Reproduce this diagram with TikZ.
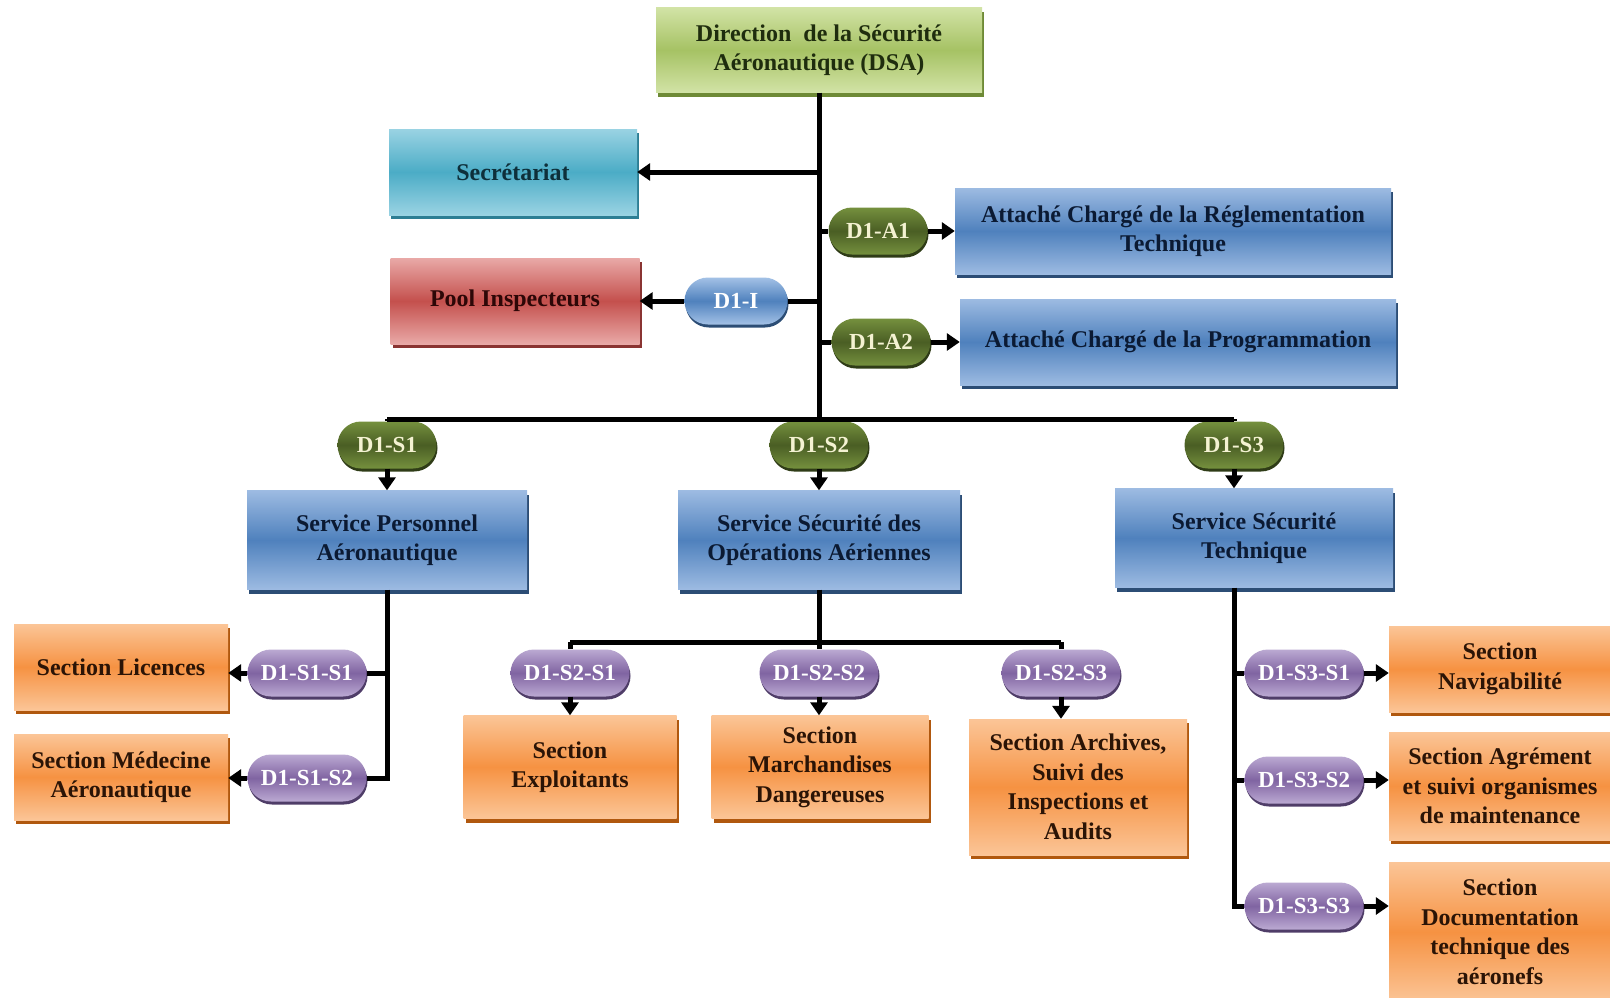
\documentclass[tikz,border=0pt]{standalone}
\usepackage{fontspec}
\setmainfont{Liberation Serif}
\usetikzlibrary{arrows.meta,shapes.misc,shadows,calc}
\definecolor{gTop}{HTML}{D2E3A6}\definecolor{gMid}{HTML}{A6C264}\definecolor{gSh}{HTML}{6E8A36}\definecolor{gTx}{HTML}{1F2D0E}
\definecolor{cTop}{HTML}{9AD3E3}\definecolor{cMid}{HTML}{4BACC6}\definecolor{cSh}{HTML}{2D7E94}\definecolor{cTx}{HTML}{0E2F3A}
\definecolor{rTop}{HTML}{E9A9A7}\definecolor{rMid}{HTML}{C4504D}\definecolor{rSh}{HTML}{8A3432}\definecolor{rTx}{HTML}{2D0707}
\definecolor{bTop}{HTML}{9DBBE2}\definecolor{bMid}{HTML}{4F81BD}\definecolor{bSh}{HTML}{2C4D75}\definecolor{bTx}{HTML}{0B1A33}
\definecolor{oTop}{HTML}{FBC597}\definecolor{oMid}{HTML}{F69242}\definecolor{oSh}{HTML}{B0580E}\definecolor{oTx}{HTML}{2B1406}
\definecolor{olTop}{HTML}{75903E}\definecolor{olMid}{HTML}{4A5E24}\definecolor{olSh}{HTML}{2F3C17}\definecolor{olTx}{HTML}{F4F2D2}
\definecolor{pTop}{HTML}{BBA9D2}\definecolor{pMid}{HTML}{8064A2}\definecolor{pSh}{HTML}{4F3D68}
\definecolor{lbTop}{HTML}{A3C1E6}\definecolor{lbMid}{HTML}{4F81BD}
\tikzset{
  bx/.style={rectangle, align=center, inner sep=2pt, font=\bfseries\fontsize{24}{29.5}\selectfont},
  greenbox/.style={bx, top color=gTop, bottom color=gTop, middle color=gMid, text=gTx,
    general shadow={fill=gSh, shadow xshift=2pt, shadow yshift=-4pt}},
  cyanbox/.style={bx, top color=cTop, bottom color=cTop, middle color=cMid, text=cTx,
    general shadow={fill=cSh, shadow xshift=2pt, shadow yshift=-4pt}},
  redbox/.style={bx, top color=rTop, bottom color=rTop, middle color=rMid, text=rTx,
    general shadow={fill=rSh, shadow xshift=2pt, shadow yshift=-4pt}},
  bluebox/.style={bx, top color=bTop, bottom color=bTop, middle color=bMid, text=bTx,
    general shadow={fill=bSh, shadow xshift=2pt, shadow yshift=-4pt}},
  orangebox/.style={bx, top color=oTop, bottom color=oTop, middle color=oMid, text=oTx,
    general shadow={fill=oSh, shadow xshift=2pt, shadow yshift=-4pt}},
  pill/.style={rounded rectangle, minimum height=47pt, inner xsep=6pt, inner ysep=0pt,
    font=\bfseries\fontsize{23}{27}\selectfont},
  olivepill/.style={pill, minimum width=111pt, top color=olTop, bottom color=olTop, middle color=olMid, text=olTx,
    general shadow={fill=olSh, shadow xshift=1pt, shadow yshift=-3pt}},
  purplepill/.style={pill, minimum width=131pt, top color=pTop, bottom color=pTop, middle color=pMid, text=white,
    general shadow={fill=pSh, shadow xshift=1pt, shadow yshift=-3pt}},
  bluepill/.style={pill, minimum width=115pt, top color=lbTop, bottom color=lbTop, middle color=lbMid, text=white,
    general shadow={fill=bSh, shadow xshift=1pt, shadow yshift=-3pt}},
  ln/.style={draw=black, line width=5pt},
  arr/.style={ln, -{Triangle[length=13pt,width=17pt]}},
}
\begin{document}
\begin{tikzpicture}[x=1pt,y=-1pt]
\useasboundingbox[fill=white] (0,0) rectangle (1610,997);
% top
\node[greenbox, minimum width=326pt, minimum height=85pt] (dsa) at (819,50) {Direction\ \ de la Sécurité\\Aéronautique (DSA)};
\node[cyanbox, minimum width=248pt, minimum height=86pt] (sec) at (513,172) {Secrétariat};
\node[redbox, minimum width=249pt, minimum height=86pt] (pool) at (515,301) {Pool Inspecteurs};
\node[bluepill] (di) at (736,301) {D1-I};
\node[olivepill] (a1) at (878,231) {D1-A1};
\node[bluebox, minimum width=436pt, minimum height=86pt] (ar) at (1173,231) {Attaché Chargé de la Réglementation\\Technique};
\node[olivepill] (a2) at (881,342) {D1-A2};
\node[bluebox, minimum width=436pt, minimum height=86pt] (ap) at (1178,342) {Attaché Chargé de la Programmation};
% services
\coordinate (bar) at (819,419);
\node[olivepill] (s1) at (387,445) {D1-S1};
\node[olivepill] (s2) at (819,445) {D1-S2};
\node[olivepill] (s3) at (1234,445) {D1-S3};
\node[bluebox, minimum width=280pt, minimum height=99pt] (spa) at (387,540) {Service Personnel\\Aéronautique};
\node[bluebox, minimum width=282pt, minimum height=99pt] (ssoa) at (819,540) {Service Sécurité des\\Opérations Aériennes};
\node[bluebox, minimum width=278pt, minimum height=99pt] (sst) at (1254,538) {Service Sécurité\\Technique};
% S1 sections
\node[purplepill] (p11) at (307,673) {D1-S1-S1};
\node[purplepill] (p12) at (307,778) {D1-S1-S2};
\node[orangebox, minimum width=214pt, minimum height=86pt] (lic) at (121,667) {Section Licences};
\node[orangebox, minimum width=214pt, minimum height=86pt] (med) at (121,777) {Section Médecine\\Aéronautique};
% S2 sections
\coordinate (bar2) at (819,642);
\node[purplepill] (p21) at (570,673) {D1-S2-S1};
\node[purplepill] (p22) at (819,673) {D1-S2-S2};
\node[purplepill] (p23) at (1061,673) {D1-S2-S3};
\node[orangebox, minimum width=213pt, minimum height=103pt] (exp) at (570,767) {Section\\Exploitants};
\node[orangebox, minimum width=217pt, minimum height=103pt] (mar) at (820,767) {Section\\Marchandises\\Dangereuses};
\node[orangebox, minimum width=218pt, minimum height=136pt] (arc) at (1078,787) {Section Archives,\\Suivi des\\Inspections et\\Audits};
% S3 sections
\node[purplepill] (p31) at (1304,673) {D1-S3-S1};
\node[purplepill] (p32) at (1304,780) {D1-S3-S2};
\node[purplepill] (p33) at (1304,906) {D1-S3-S3};
\node[orangebox, minimum width=222pt, minimum height=86pt] (nav) at (1500,669) {Section\\Navigabilité};
\node[orangebox, minimum width=222pt, minimum height=108pt] (agr) at (1500,786) {Section Agrément\\et suivi organismes\\de maintenance};
\node[orangebox, minimum width=222pt, minimum height=140pt] (doc) at (1500,932) {Section\\Documentation\\technique des\\aéronefs};
% connectors: trunk
\draw[ln] (dsa.south) -- (bar);
\draw[arr] (dsa.south |- sec.east) -- (sec.east);
\draw[ln] (dsa.south |- di.east) -- (di.east);
\draw[arr] (di.west) -- (pool.east);
\draw[ln] (dsa.south |- a1.west) -- (a1.west);
\draw[arr] (a1.east) -- (ar.west);
\draw[ln] (dsa.south |- a2.west) -- (a2.west);
\draw[arr] (a2.east) -- (ap.west);
\draw[ln] (s1.north |- bar) -- (s3.north |- bar);
\draw[ln] (s1.north |- bar) -- (s1.north);
\draw[ln] (s2.north |- bar) -- (s2.north);
\draw[ln] (s3.north |- bar) -- (s3.north);
\draw[arr] (s1.south) -- (spa.north);
\draw[arr] (s2.south) -- (ssoa.north);
\draw[arr] (s3.south) -- (s3.south |- sst.north);
% S1
\draw[ln] (spa.south) -- (spa.south |- p12.east) -- (p12.east);
\draw[ln] (spa.south |- p11.east) -- (p11.east);
\draw[arr] (p11.west) -- (lic.east |- p11.west);
\draw[arr] (p12.west) -- (med.east |- p12.west);
% S2
\draw[ln] (ssoa.south) -- (bar2);
\draw[ln] (p21.north |- bar2) -- (p23.north |- bar2);
\draw[ln] (p21.north |- bar2) -- (p21.north);
\draw[ln] (p22.north |- bar2) -- (p22.north);
\draw[ln] (p23.north |- bar2) -- (p23.north);
\draw[arr] (p21.south) -- (exp.north);
\draw[arr] (p22.south) -- (p22.south |- mar.north);
\draw[arr] (p23.south) -- (p23.south |- arc.north);
% S3
\coordinate (v3) at (sst.south -| s3.south);
\draw[ln] (v3) -- (v3 |- p33.west) -- (p33.west);
\draw[ln] (v3 |- p31.west) -- (p31.west);
\draw[ln] (v3 |- p32.west) -- (p32.west);
\draw[arr] (p31.east) -- (nav.west |- p31.east);
\draw[arr] (p32.east) -- (agr.west |- p32.east);
\draw[arr] (p33.east) -- (doc.west |- p33.east);
\end{tikzpicture}
\end{document}
